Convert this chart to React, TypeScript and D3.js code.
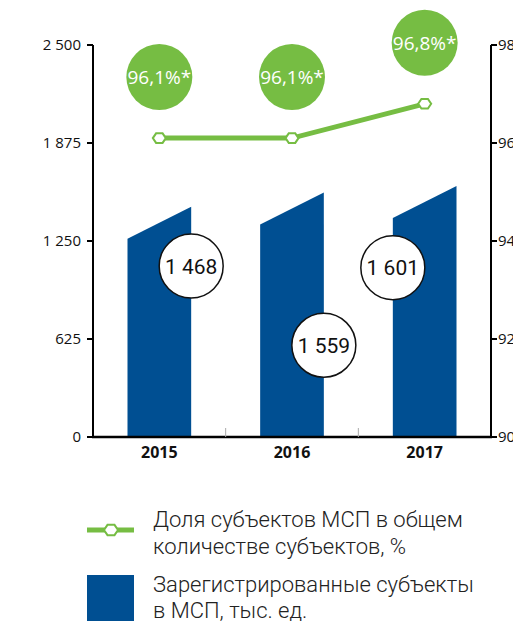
import React from 'react';
import * as d3 from 'd3';

const years = ['2015', '2016', '2017'];
const registered = [1468, 1559, 1601];
const share = [96.1, 96.1, 96.8];
const shareLabels = ['96,1%*', '96,1%*', '96,8%*'];
const countLabels = ['1 468', '1 559', '1 601'];
const leftTicks = [0, 625, 1250, 1875, 2500];
const rightTicks = [90, 92, 94, 96, 98];

const BLUE = '#004f92';
const GREEN = '#76bd43';

// where the white value badges sit: side of the bar and height on the left scale
const badgeSide = ['right', 'right', 'left'];
const badgeLevel = [1090, 585, 1080];

const hexPath = (cx: number, cy: number, r: number) => {
  const pts = d3.range(6).map((i) => {
    const a = (Math.PI / 3) * i;
    return [cx + r * Math.cos(a), cy + r * 0.85 * Math.sin(a)];
  });
  return 'M' + pts.map((p) => p.join(',')).join('L') + 'Z';
};

const App = () => {
  const W = 513;
  const H = 621;
  const left = 93;
  const right = 491;
  const top = 45;
  const bottom = 437;

  const x = d3.scaleBand().domain(years).range([left, right]).paddingInner(0.52).paddingOuter(0.26);
  const yL = d3.scaleLinear().domain([0, 2500]).range([bottom, top]);
  const yR = d3.scaleLinear().domain([90, 98]).range([bottom, top]);
  const slant = 32;

  const line = d3
    .line<number>()
    .x((d, i) => x(years[i])! + x.bandwidth() / 2)
    .y((d) => yR(d));

  const tickFont = "'Open Sans', 'DejaVu Sans', sans-serif";
  const labelFont = "Roboto, 'Noto Sans', sans-serif";

  return (
    <svg width={W} height={H} style={{ position: 'absolute', left: 0, top: 0 }}>
      <rect width={W} height={H} fill="#fff" />

      {/* bars */}
      {registered.map((v, i) => {
        const x0 = x(years[i])!;
        const x1 = x0 + x.bandwidth();
        const yt = yL(v);
        return (
          <path
            key={years[i]}
            d={`M${x0},${bottom}L${x0},${yt + slant}L${x1},${yt}L${x1},${bottom}Z`}
            fill={BLUE}
          />
        );
      })}

      {/* left axis */}
      <line x1={left} x2={left} y1={top} y2={bottom} stroke="#000" strokeWidth={2} />
      {leftTicks.map((t) => (
        <g key={t}>
          <line x1={left - 6} x2={left} y1={yL(t)} y2={yL(t)} stroke="#000" strokeWidth={2} />
          <text x={left - 12} y={yL(t)} dy="0.35em" textAnchor="end" fontSize={15} fontFamily={tickFont} fill="#111">
            {d3.format(',')(t).replace(/,/g, ' ')}
          </text>
        </g>
      ))}

      {/* right axis (labels run off the edge, as in the original) */}
      <line x1={right} x2={right} y1={top} y2={bottom} stroke="#000" strokeWidth={2} />
      {rightTicks.map((t) => (
        <g key={t}>
          <line x1={right} x2={right + 6} y1={yR(t)} y2={yR(t)} stroke="#000" strokeWidth={2} />
          <text x={right + 7} y={yR(t)} dy="0.35em" fontSize={15} fontFamily={tickFont} fill="#111">
            {t}
          </text>
        </g>
      ))}

      {/* x axis */}
      <line x1={left - 1} x2={right + 1} y1={bottom} y2={bottom} stroke="#000" strokeWidth={2.5} />
      {years.slice(1).map((yr) => {
        const xb = x(yr)! - (x.step() - x.bandwidth()) / 2;
        return <line key={yr} x1={xb} x2={xb} y1={bottom - 9} y2={bottom} stroke="#aaa" strokeWidth={1} />;
      })}
      {years.map((yr) => (
        <text
          key={yr}
          x={x(yr)! + x.bandwidth() / 2}
          y={bottom + 21}
          textAnchor="middle"
          fontSize={16}
          fontWeight="bold"
          fontFamily={tickFont}
          fill="#111"
        >
          {yr}
        </text>
      ))}

      {/* value badges */}
      {registered.map((v, i) => {
        const cx = x(years[i])! + (badgeSide[i] === 'right' ? x.bandwidth() : 0);
        const cy = yL(badgeLevel[i]);
        return (
          <g key={'b' + i}>
            <circle cx={cx} cy={cy} r={32} fill="#fff" stroke="#111" strokeWidth={1.5} />
            <text x={cx} y={cy} dy="0.36em" textAnchor="middle" fontSize={21} fontFamily={labelFont} fill="#111">
              {countLabels[i]}
            </text>
          </g>
        );
      })}

      {/* share line */}
      <path d={line(share)!} fill="none" stroke={GREEN} strokeWidth={5} />
      {share.map((v, i) => (
        <path
          key={'m' + i}
          d={hexPath(x(years[i])! + x.bandwidth() / 2, yR(v), 6.5)}
          fill="#fff"
          stroke={GREEN}
          strokeWidth={2}
        />
      ))}
      {share.map((v, i) => {
        const cx = x(years[i])! + x.bandwidth() / 2;
        const cy = yR(v) - 61;
        return (
          <g key={'g' + i}>
            <circle cx={cx} cy={cy} r={33} fill={GREEN} />
            <text x={cx} y={cy} dy="0.36em" textAnchor="middle" fontSize={19} fontFamily={tickFont} fill="#fff">
              {shareLabels[i]}
            </text>
          </g>
        );
      })}

      {/* legend */}
      <line x1={87} x2={134} y1={530} y2={530} stroke={GREEN} strokeWidth={5} />
      <path d={hexPath(111, 530, 7)} fill="#fff" stroke={GREEN} strokeWidth={2} />
      <text x={153} y={527} fontSize={22} fontWeight={300} fontFamily={labelFont} fill="#222">
        Доля субъектов МСП в общем
      </text>
      <text x={153} y={554} fontSize={22} fontWeight={300} fontFamily={labelFont} fill="#222">
        количестве субъектов, %
      </text>
      <rect x={87} y={575} width={47} height={46} fill={BLUE} />
      <text x={153} y={592} fontSize={22} fontWeight={300} fontFamily={labelFont} fill="#222">
        Зарегистрированные субъекты
      </text>
      <text x={153} y={618} fontSize={22} fontWeight={300} fontFamily={labelFont} fill="#222">
        в МСП, тыс. ед.
      </text>
    </svg>
  );
};

export default App;
